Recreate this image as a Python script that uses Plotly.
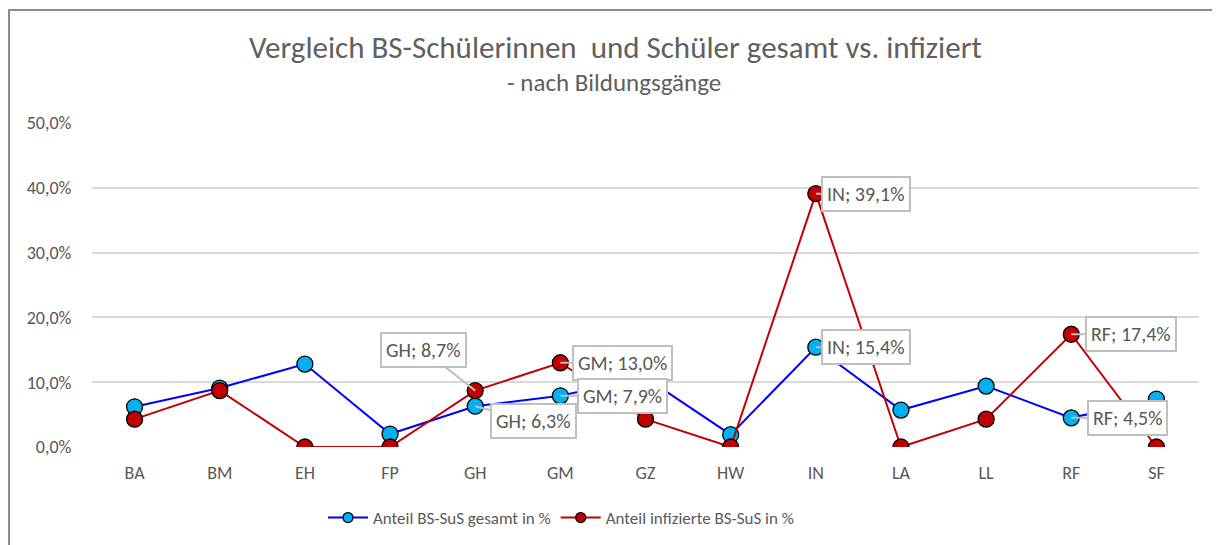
import plotly.graph_objects as go

categories = ["BA", "BM", "EH", "FP", "GH", "GM", "GZ", "HW", "IN", "LA", "LL", "RF", "SF"]
gesamt = [6.2, 9.1, 12.8, 2.0, 6.3, 7.9, 10.7, 1.9, 15.4, 5.7, 9.4, 4.5, 7.4]
infiziert = [4.3, 8.7, 0.0, 0.0, 8.7, 13.0, 4.3, 0.0, 39.1, 0.0, 4.3, 17.4, 0.0]
y_ticks = [0, 10, 20, 30, 40, 50]
y_tick_text = ["0,0%", "10,0%", "20,0%", "30,0%", "40,0%", "50,0%"]

# labelled points: (series, category, offset x, offset y)
labels = [
    ("inf", "GH", -52, -41),
    ("ges", "GH", 58, 15),
    ("inf", "GM", 62, 0),
    ("ges", "GM", 62, 0),
    ("inf", "IN", 50, 0),
    ("ges", "IN", 50, 0),
    ("inf", "RF", 60, 0),
    ("ges", "RF", 56, 0),
]

FONT = "Calibri, Carlito, Roboto, sans-serif"
GREY = "#595959"
BLUE_LINE, BLUE_FILL = "#0000FF", "#00B0F0"
RED = "#C00000"

OFF = 8  # page body margin
W, H = 1220, 545
L, T = 92 - OFF, 123 - OFF
PW, PH = 1107, 324
R, B = W - L - PW, H - T - PH


def px_x(px):
    return (px - OFF - L) / PW


def px_y(py):
    return (T + PH - (py - OFF)) / PH


fig = go.Figure()
fig.add_trace(go.Scatter(
    x=categories, y=gesamt, mode="lines+markers", name="Anteil BS-SuS gesamt in %",
    line=dict(color=BLUE_LINE, width=2), showlegend=False,
    marker=dict(size=16, color=BLUE_FILL, line=dict(color="black", width=1.3)),
))
fig.add_trace(go.Scatter(
    x=categories, y=infiziert, mode="lines+markers", name="Anteil infizierte BS-SuS in %",
    line=dict(color=RED, width=2), showlegend=False,
    marker=dict(size=16, color=RED, line=dict(color="black", width=1.3)),
))
# legend entries with smaller symbols
fig.add_trace(go.Scatter(
    x=[None], y=[None], mode="lines+markers", name="Anteil BS-SuS gesamt in %",
    line=dict(color=BLUE_LINE, width=2),
    marker=dict(size=10, color=BLUE_FILL, line=dict(color="black", width=1.3)),
))
fig.add_trace(go.Scatter(
    x=[None], y=[None], mode="lines+markers", name="Anteil infizierte BS-SuS in %",
    line=dict(color=RED, width=2),
    marker=dict(size=10, color=RED, line=dict(color="black", width=1.3)),
))

series = {"ges": gesamt, "inf": infiziert}
for s, cat, ax, ay in labels:
    v = series[s][categories.index(cat)]
    txt = f"{cat}; {v:.1f}%".replace(".", ",")
    fig.add_annotation(
        x=cat, y=v, xref="x", yref="y", text=txt, showarrow=True,
        ax=ax, ay=ay, arrowhead=0, arrowwidth=2, arrowcolor="#BFBFBF",
        bordercolor="#BFBFBF", borderwidth=2, borderpad=4, bgcolor="white",
        font=dict(family=FONT, size=20, color=GREY),
    )

fig.add_annotation(
    text="Vergleich BS-Schülerinnen  und Schüler gesamt vs. infiziert",
    xref="paper", yref="paper", x=px_x(615), y=px_y(47),
    showarrow=False, xanchor="center", yanchor="middle",
    font=dict(family=FONT, size=31, color="#606060"),
)
fig.add_annotation(
    text="- nach Bildungsgänge",
    xref="paper", yref="paper", x=px_x(614), y=px_y(83),
    showarrow=False, xanchor="center", yanchor="middle",
    font=dict(family=FONT, size=25, color="#606060"),
)

# outer chart frame
fig.add_shape(type="rect", xref="paper", yref="paper",
              x0=px_x(9), x1=px_x(1300), y0=px_y(650), y1=px_y(10),
              line=dict(color="#8C8C8C", width=2), layer="below")

fig.update_layout(
    width=W, height=H,
    margin=dict(l=L, r=R, t=T, b=B, autoexpand=False),
    paper_bgcolor="white", plot_bgcolor="white",
    font=dict(family=FONT, color=GREY),
    showlegend=True,
    legend=dict(orientation="h", xref="container", yref="container",
                x=(561 - OFF) / W, xanchor="center", y=1 - (518 - OFF) / H, yanchor="middle",
                font=dict(family=FONT, size=17, color=GREY),
                itemwidth=40, traceorder="normal", tracegroupgap=0),
    xaxis=dict(type="category", range=[-0.5, 12.5], showgrid=False, showline=False,
               ticks="outside", ticklen=9, tickcolor="rgba(0,0,0,0)",
               tickfont=dict(family=FONT, size=18, color=GREY)),
    yaxis=dict(range=[0, 50], tickvals=y_ticks, ticktext=y_tick_text,
               showgrid=True, gridcolor="#D9D9D9", gridwidth=1.5, zeroline=False,
               showline=False, ticks="outside", ticklen=16, tickcolor="rgba(0,0,0,0)",
               tickfont=dict(family=FONT, size=18, color=GREY)),
)

fig.write_html("out.html")
